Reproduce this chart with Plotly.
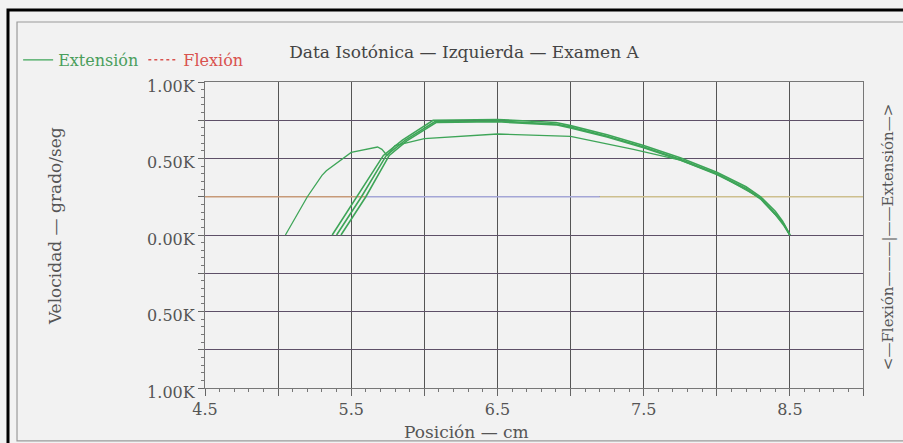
import plotly.graph_objects as go

# ---- data ----
ext_a_x = [5.05, 5.20, 5.30, 5.33, 5.50, 5.68, 5.71, 5.745, 5.80, 6.00, 6.50, 7.00, 7.43, 7.75, 8.00, 8.30, 8.45, 8.50]
ext_a_y = [0.00, 0.25, 0.39, 0.42, 0.54, 0.575, 0.56, 0.52, 0.585, 0.63, 0.66, 0.645, 0.56, 0.49, 0.40, 0.24, 0.08, 0.00]

ext_b_x = [5.37, 5.54, 5.72, 5.85, 6.06, 6.50, 6.90, 7.00, 7.25, 7.50, 7.75, 8.00, 8.20, 8.30, 8.40, 8.45, 8.50]
ext_b_y = [0.00, 0.25, 0.52, 0.62, 0.75, 0.755, 0.735, 0.715, 0.655, 0.585, 0.505, 0.41, 0.315, 0.25, 0.155, 0.09, 0.00]

ext_c_x = [5.40, 5.57, 5.74, 5.87, 6.07, 6.50, 6.90, 7.00, 7.25, 7.50, 7.75, 8.00, 8.20, 8.30, 8.40, 8.46, 8.50]
ext_c_y = [0.00, 0.25, 0.52, 0.62, 0.74, 0.745, 0.725, 0.705, 0.645, 0.575, 0.495, 0.40, 0.305, 0.24, 0.14, 0.07, 0.00]

ext_d_x = [5.43, 5.60, 5.76, 5.88, 6.08, 6.50, 6.90, 7.00, 7.25, 7.50, 7.75, 8.00, 8.20, 8.30, 8.40, 8.46, 8.50]
ext_d_y = [0.00, 0.25, 0.52, 0.615, 0.735, 0.74, 0.72, 0.70, 0.64, 0.57, 0.49, 0.395, 0.30, 0.235, 0.135, 0.06, 0.00]

flex_x = [None]
flex_y = [None]

x_tickvals = [4.5, 5.0, 5.5, 6.0, 6.5, 7.0, 7.5, 8.0, 8.5, 9.0]
x_ticktext = ["4.5", "", "5.5", "", "6.5", "", "7.5", "", "8.5", ""]
y_tickvals = [-1.0, -0.75, -0.5, -0.25, 0.0, 0.25, 0.5, 0.75, 1.0]
y_ticktext = ["1.00K", "", "0.50K", "", "0.00K", "", "0.50K", "", "1.00K"]

GREEN = "#3ea558"
RED = "#d9534f"
FONT = "DejaVu Serif"
BG = "#f2f2f2"

fig = go.Figure()
curves = [(ext_a_x, ext_a_y, 1.3), (ext_b_x, ext_b_y, 1.6), (ext_c_x, ext_c_y, 1.6), (ext_d_x, ext_d_y, 1.6)]
for i, (xs, ys, w) in enumerate(curves):
    fig.add_trace(go.Scatter(
        x=xs, y=ys, mode="lines", line=dict(color=GREEN, width=w),
        name="<span style='color:#4a9e5c'>Extensión</span>",
        legendgroup="ext", showlegend=(i == 0), hoverinfo="skip"))
fig.add_trace(go.Scatter(
    x=flex_x, y=flex_y, mode="lines", line=dict(color=RED, width=1.5, dash="dot"),
    name="<span style='color:#d9534f'>Flexión</span>", showlegend=True))

# coloured reference line at 0.25K
fig.add_shape(type="line", xref="x", yref="y", x0=4.5, x1=5.6, y0=0.25, y1=0.25,
              line=dict(color="#c79a78", width=1.4), layer="between")
fig.add_shape(type="line", xref="x", yref="y", x0=5.6, x1=7.2, y0=0.25, y1=0.25,
              line=dict(color="#a4a6d6", width=1.4), layer="between")
fig.add_shape(type="line", xref="x", yref="y", x0=7.2, x1=9.0, y0=0.25, y1=0.25,
              line=dict(color="#cdbf8e", width=1.4), layer="between")

# outer frames
fig.add_shape(type="rect", xref="paper", yref="paper", x0=-0.2994, x1=1.08, y0=-0.25, y1=1.235,
              line=dict(color="black", width=3))
fig.add_shape(type="rect", xref="paper", yref="paper", x0=-0.2857, x1=1.07, y0=-0.173, y1=1.196,
              line=dict(color="#9a9a9a", width=1.2))

fig.update_layout(
    width=903, height=443,
    margin=dict(l=205, r=40, t=82, b=55),
    paper_bgcolor=BG, plot_bgcolor=BG,
    font=dict(family=FONT, size=16, color="#555"),
    title=dict(text="Data Isotónica — Izquierda — Examen A", x=464 / 903, y=1 - 52 / 443,
               xanchor="center", yanchor="middle", font=dict(family=FONT, size=17, color="#444")),
    showlegend=True,
    legend=dict(orientation="h", x=-0.284, y=1.072, xanchor="left", yanchor="middle",
                bgcolor="rgba(0,0,0,0)", font=dict(family=FONT, size=16), itemwidth=30,
                tracegroupgap=0),
    xaxis=dict(range=[4.5, 9.0], tickmode="array", tickvals=x_tickvals, ticktext=x_ticktext,
               showgrid=True, gridcolor="#555", gridwidth=1.2, zeroline=False,
               showline=True, linecolor="#777", linewidth=1.2, mirror=True,
               ticks="outside", ticklen=7, tickcolor="#666",
               minor=dict(dtick=0.1, ticks="outside", ticklen=3, tickcolor="#777", showgrid=False),
               tickfont=dict(family=FONT, size=16, color="#555")),
    yaxis=dict(range=[-1.0, 1.0], tickmode="array", tickvals=y_tickvals, ticktext=y_ticktext,
               showgrid=True, gridcolor="#5e5068", gridwidth=1.2, zeroline=False,
               showline=True, linecolor="#777", linewidth=1.2, mirror=True,
               ticks="outside", ticklen=6, tickcolor="#666", ticklabelshift=4,
               minor=dict(dtick=0.05, ticks="outside", ticklen=3, tickcolor="#777", showgrid=False),
               tickfont=dict(family=FONT, size=16, color="#555")),
)

fig.add_annotation(text="Posición — cm", xref="paper", yref="paper", x=0.397, y=-0.144,
                   showarrow=False, xanchor="center", yanchor="middle",
                   font=dict(family=FONT, size=17, color="#555"))
fig.add_annotation(text="Velocidad — grado/seg", xref="paper", yref="paper", x=-0.228, y=0.529,
                   showarrow=False, textangle=-90, xanchor="center", yanchor="middle",
                   font=dict(family=FONT, size=17, color="#555"))
fig.add_annotation(text="<—Flexión———|——Extensión—>", xref="paper", yref="paper", x=1.038, y=0.493,
                   showarrow=False, textangle=-90, xanchor="center", yanchor="middle",
                   font=dict(family=FONT, size=15, color="#555"))

fig.write_html("out.html")
